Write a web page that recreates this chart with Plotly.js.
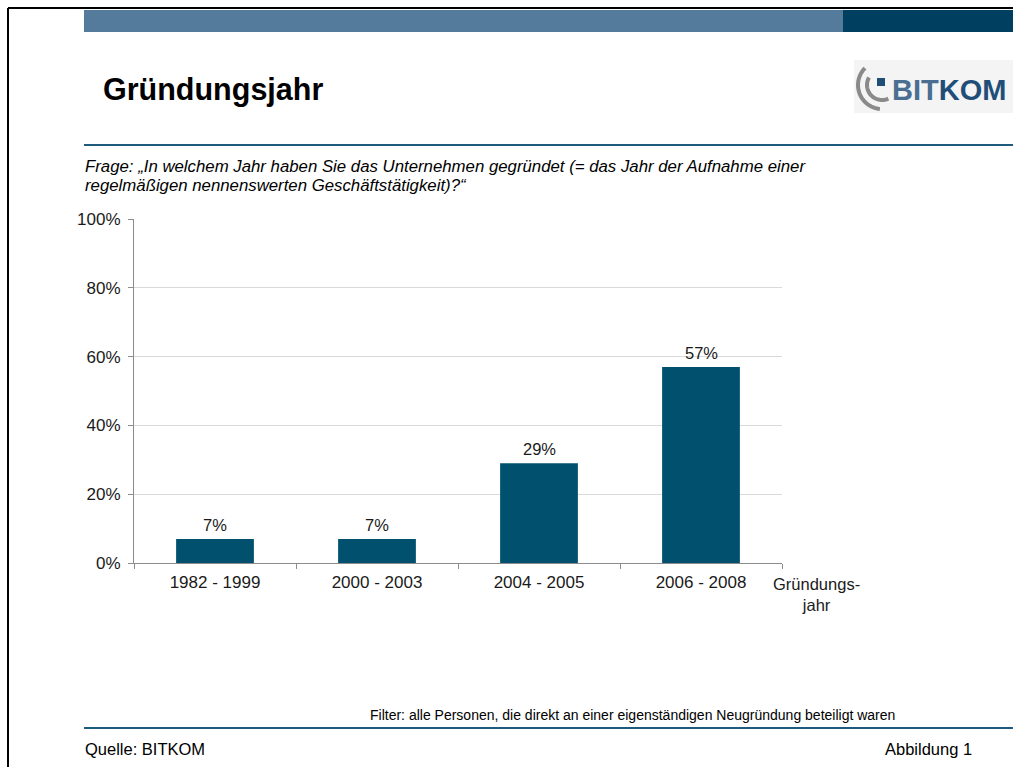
<!DOCTYPE html>
<html>
<head>
<meta charset="utf-8">
<script src="https://cdn.plot.ly/plotly-3.0.1.min.js"></script>
<style>html,body{margin:0;padding:0;background:#fff;}#chart{width:1013px;height:767px;}</style>
</head>
<body>
<div id="chart"></div>
<script>
const categories = ['1982 - 1999', '2000 - 2003', '2004 - 2005', '2006 - 2008'];
const shares = [7, 7, 29, 57];
const shareLabels = ['7%', '7%', '29%', '57%'];
const yTickValues = [0, 20, 40, 60, 80, 100];

const W = 1013, H = 767;
const L = 134, R = 782, T = 219, B = 563;
const px = x => (x - L) / (R - L);
const py = y => (B - y) / (B - T);

function arcPath(cx, cy, r, a0, a1) {
  let d = '';
  const n = 30;
  for (let i = 0; i <= n; i++) {
    const a = (a0 + (a1 - a0) * i / n) * Math.PI / 180;
    const x = cx + r * Math.cos(a), y = cy - r * Math.sin(a);
    d += (i === 0 ? 'M ' : ' L ') + px(x).toFixed(5) + ',' + py(y).toFixed(5);
  }
  return d;
}

const FONT = 'Liberation Sans, Arial, sans-serif';

const trace = {
  type: 'bar',
  x: categories,
  y: shares,
  marker: {color: '#00506e'},
  hoverinfo: 'skip'
};

const shapes = [
  // frame
  {type: 'line', xref: 'paper', yref: 'paper', x0: px(8), x1: px(1013), y0: py(8), y1: py(8), line: {color: '#000', width: 2}},
  {type: 'line', xref: 'paper', yref: 'paper', x0: px(8), x1: px(8), y0: py(8), y1: py(767), line: {color: '#000', width: 2}},
  // top bar
  {type: 'rect', xref: 'paper', yref: 'paper', x0: px(84), x1: px(843), y0: py(10), y1: py(32), fillcolor: '#547b9b', line: {width: 0}},
  {type: 'rect', xref: 'paper', yref: 'paper', x0: px(843), x1: px(1013), y0: py(10), y1: py(32), fillcolor: '#003f5f', line: {width: 0}},
  // rules
  {type: 'line', xref: 'paper', yref: 'paper', x0: px(84), x1: px(1013), y0: py(145), y1: py(145), line: {color: '#1d5a7e', width: 2}},
  {type: 'line', xref: 'paper', yref: 'paper', x0: px(84), x1: px(1013), y0: py(728), y1: py(728), line: {color: '#1d5a7e', width: 2}},
  // logo box
  {type: 'rect', xref: 'paper', yref: 'paper', x0: px(854), x1: px(1013), y0: py(60), y1: py(113), fillcolor: '#f4f4f4', line: {width: 0}},
  {type: 'path', xref: 'paper', yref: 'paper', path: arcPath(882, 85, 24, 135, 265), line: {color: '#8a8a8a', width: 4}},
  {type: 'path', xref: 'paper', yref: 'paper', path: arcPath(882, 85, 15, 150, 295), line: {color: '#8a8a8a', width: 4}},
  {type: 'rect', xref: 'paper', yref: 'paper', x0: px(877), x1: px(885), y0: py(78), y1: py(86), fillcolor: '#1f4e79', line: {width: 0}}
];

const barLabels = categories.map((c, i) => ({
  text: shareLabels[i], x: c, y: shares[i], xref: 'x', yref: 'y',
  xanchor: 'center', yanchor: 'bottom', yshift: 3, showarrow: false,
  font: {family: FONT, size: 16.5, color: '#1a1a1a'}
}));

const annotations = [
  {text: '<b>Gründungsjahr</b>', x: px(101), y: py(89), xanchor: 'left', yanchor: 'middle', font: {family: FONT, size: 30.5, color: '#000'}},
  {text: '<b><span style="color:#4a6f92">BIT</span><span style="color:#1f4e79">KOM</span></b>', x: px(890), y: py(90), xanchor: 'left', yanchor: 'middle', font: {family: FONT, size: 29, color: '#1f4e79'}},
  {text: '<i>Frage: „In welchem Jahr haben Sie das Unternehmen gegründet (= das Jahr der Aufnahme einer</i>', x: px(83), y: py(166), xanchor: 'left', yanchor: 'middle', font: {family: FONT, size: 16.8, color: '#000'}},
  {text: '<i>regelmäßigen nennenswerten Geschäftstätigkeit)?“</i>', x: px(83), y: py(185), xanchor: 'left', yanchor: 'middle', font: {family: FONT, size: 16.8, color: '#000'}},
  {text: 'Gründungs-<br>jahr', x: px(817), y: py(594), xanchor: 'center', yanchor: 'middle', align: 'center', font: {family: FONT, size: 16.5, color: '#1a1a1a'}},
  {text: 'Filter: alle Personen, die direkt an einer eigenständigen Neugründung beteiligt waren', x: px(897), y: py(715), xanchor: 'right', yanchor: 'middle', font: {family: FONT, size: 14, color: '#000'}},
  {text: 'Quelle: BITKOM', x: px(83), y: py(749), xanchor: 'left', yanchor: 'middle', font: {family: FONT, size: 16.5, color: '#000'}},
  {text: 'Abbildung 1', x: px(974), y: py(749), xanchor: 'right', yanchor: 'middle', font: {family: FONT, size: 16.5, color: '#000'}}
].map(a => Object.assign({xref: 'paper', yref: 'paper', showarrow: false}, a)).concat(barLabels);

const layout = {
  width: W, height: H,
  margin: {l: L, r: W - R, t: T, b: H - B, pad: 0},
  paper_bgcolor: '#fff', plot_bgcolor: '#fff',
  showlegend: false,
  bargap: 0.52,
  font: {family: FONT, size: 17, color: '#1a1a1a'},
  xaxis: {
    type: 'category',
    showline: true, linecolor: '#8c8c8c', linewidth: 1,
    ticks: 'outside', tickson: 'boundaries', ticklen: 5, tickcolor: '#8c8c8c',
    ticklabelstandoff: 4,
    showgrid: false, zeroline: false,
    tickfont: {family: FONT, size: 17, color: '#1a1a1a'},
    fixedrange: true
  },
  yaxis: {
    range: [0, 100],
    tickvals: yTickValues,
    ticktext: yTickValues.map(v => v + '%'),
    showline: true, linecolor: '#8c8c8c', linewidth: 1,
    ticks: 'outside', ticklen: 5, tickcolor: '#8c8c8c',
    ticklabelstandoff: 4,
    showgrid: true, gridcolor: '#d9d9d9', gridwidth: 1,
    zeroline: false,
    tickfont: {family: FONT, size: 17, color: '#1a1a1a'},
    fixedrange: true
  },
  shapes: shapes,
  annotations: annotations
};

Plotly.newPlot('chart', [trace], layout, {displayModeBar: false, staticPlot: true});
</script>
</body>
</html>
